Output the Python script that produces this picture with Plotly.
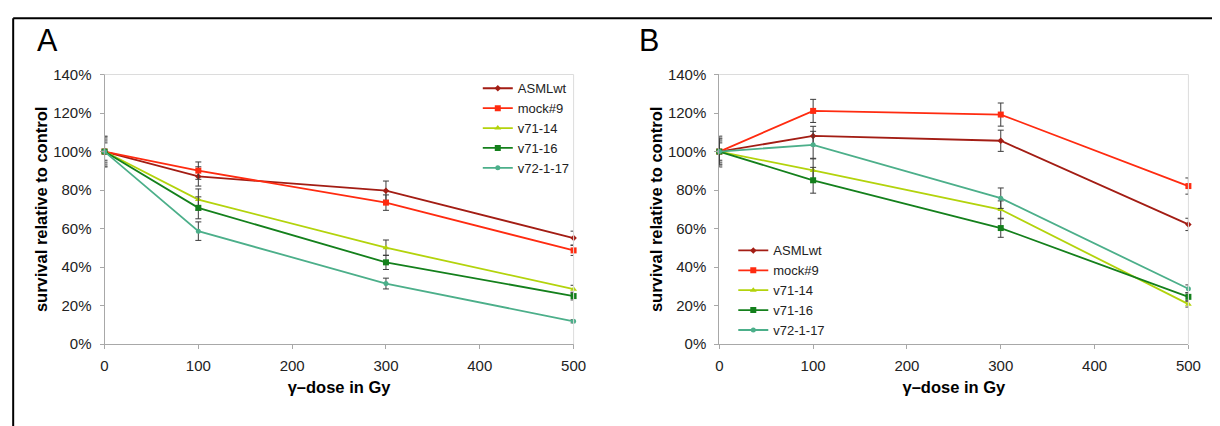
import plotly.graph_objects as go

doses = [0, 100, 300, 500]
series_names = ["ASMLwt", "mock#9", "v71-14", "v71-16", "v72-1-17"]

# Panel A values (% survival relative to control) and error bars
a_asmlwt = [100, 87.1, 79.7, 55.1]
a_mock9 = [100, 90.1, 73.5, 48.7]
a_v7114 = [100, 75.1, 50.1, 28.6]
a_v7116 = [100, 70.8, 42.5, 25.0]
a_v72117 = [100, 58.7, 31.5, 11.9]
a_err_asmlwt = [7.5, 5.0, 5.0, 3.6]
a_err_mock9 = [6.5, 4.5, 4.0, 2.6]
a_err_v7114 = [8.0, 5.5, 4.0, 2.0]
a_err_v7116 = [5.5, 5.7, 3.7, 2.0]
a_err_v72117 = [4.5, 4.8, 2.8, 0.8]

# Panel B values and error bars
b_asmlwt = [100, 108.1, 105.6, 62.2]
b_mock9 = [100, 121.1, 119.2, 82.1]
b_v7114 = [100, 90.2, 69.9, 20.8]
b_v7116 = [100, 85.1, 60.3, 24.6]
b_v72117 = [100, 103.5, 75.8, 28.8]
b_err_asmlwt = [7.0, 5.0, 5.5, 3.2]
b_err_mock9 = [5.5, 6.0, 6.0, 4.2]
b_err_v7114 = [8.0, 6.0, 4.5, 1.5]
b_err_v7116 = [6.5, 6.7, 4.8, 2.0]
b_err_v72117 = [4.5, 7.0, 5.3, 2.0]

x_ticks = [0, 100, 200, 300, 400, 500]
y_ticks = [0, 20, 40, 60, 80, 100, 120, 140]
y_tick_labels = ["0%", "20%", "40%", "60%", "80%", "100%", "120%", "140%"]

colors = ["#A31D14", "#FF2B10", "#B3D30C", "#14801C", "#4CAF8A"]
symbols = ["diamond", "square", "triangle-up", "square", "circle"]
sizes = [5, 6, 6, 6, 5]

panel_a = [a_asmlwt, a_mock9, a_v7114, a_v7116, a_v72117]
panel_a_err = [a_err_asmlwt, a_err_mock9, a_err_v7114, a_err_v7116, a_err_v72117]
panel_b = [b_asmlwt, b_mock9, b_v7114, b_v7116, b_v72117]
panel_b_err = [b_err_asmlwt, b_err_mock9, b_err_v7114, b_err_v7116, b_err_v72117]

FONT = "Liberation Sans, Arial, sans-serif"
W, H = 1220, 426

# placement helpers: target pixel positions (as seen in the final picture) -> paper fractions
SX, OX = 0.988, 12.3
SY, OY = 0.962, 16.1

def px_x(p):
    return ((p - OX) / SX) / W

def px_y(p):
    return 1 - ((p - OY) / SY) / H

fig = go.Figure()

for vals_list, errs_list, xa, ya, lg in [
        (panel_a, panel_a_err, "x", "y", "legend"),
        (panel_b, panel_b_err, "x2", "y2", "legend2")]:
    for i, name in enumerate(series_names):
        fig.add_trace(go.Scatter(
            x=doses, y=vals_list[i], name=name, mode="lines+markers",
            xaxis=xa, yaxis=ya, legend=lg, cliponaxis=False,
            line=dict(color=colors[i], width=1.8),
            marker=dict(color=colors[i], symbol=symbols[i], size=sizes[i]),
            error_y=dict(type="data", array=errs_list[i], visible=True,
                         color="#3C3C3C", thickness=1, width=3),
        ))

y_dom = [px_y(344), px_y(73.7)]

axis_common = dict(
    showgrid=False, zeroline=False, showline=True, linecolor="#A8A8A8", linewidth=1,
    ticks="outside", ticklen=4, tickcolor="#A8A8A8", tickwidth=1,
    tickfont=dict(family=FONT, size=15, color="#222222"),
)

xcommon = dict(axis_common, range=[0, 500], tickmode="array", tickvals=x_ticks, ticklabelstandoff=4,
               title=dict(text="<b>γ–dose in Gy</b>", font=dict(family=FONT, size=16.5, color="#000000"), standoff=8))
ycommon = dict(axis_common, range=[0, 140], tickmode="array", tickvals=y_ticks, ticktext=y_tick_labels,
               ticklabelstandoff=5,
               title=dict(text="<b>survival relative to control</b>", font=dict(family=FONT, size=16.5, color="#000000"), standoff=1))

legend_common = dict(xanchor="left", yanchor="top",
                     font=dict(family=FONT, size=13, color="#222222"),
                     bgcolor="rgba(0,0,0,0)", tracegroupgap=0, itemwidth=30)

fig.update_layout(
    width=W, height=H,
    margin=dict(l=0, r=0, t=0, b=0),
    paper_bgcolor="white", plot_bgcolor="white",
    font=dict(family=FONT, size=14, color="#222222"),
    xaxis=dict(xcommon, domain=[px_x(105), px_x(575)], anchor="y"),
    yaxis=dict(ycommon, domain=y_dom, anchor="x"),
    xaxis2=dict(xcommon, domain=[px_x(721), px_x(1191)], anchor="y2"),
    yaxis2=dict(ycommon, domain=y_dom, anchor="x2"),
    legend=dict(legend_common, x=px_x(479), y=px_y(72.5)),
    legend2=dict(legend_common, x=px_x(735), y=px_y(235)),
    showlegend=True,
)

# light plot-area border (top and right)
for xa, ya in [("x", "y"), ("x2", "y2")]:
    fig.add_shape(type="line", xref=f"{xa} domain", yref=f"{ya} domain",
                  x0=0, x1=1, y0=1, y1=1, line=dict(color="#DCDCDC", width=1))
    fig.add_shape(type="line", xref=f"{xa} domain", yref=f"{ya} domain",
                  x0=1, x1=1, y0=0, y1=1, line=dict(color="#DCDCDC", width=1))

# figure frame (top and left)
top_y = 1 - 1.2 / H
left_x = 1.2 / W
fig.add_shape(type="line", xref="paper", yref="paper", x0=left_x, x1=1, y0=top_y, y1=top_y,
              line=dict(color="#000000", width=2))
fig.add_shape(type="line", xref="paper", yref="paper", x0=left_x, x1=left_x, y0=top_y, y1=0,
              line=dict(color="#000000", width=2))

for label, cx in [("A", 48), ("B", 651)]:
    fig.add_annotation(text=label, x=px_x(cx), y=px_y(39), xref="paper", yref="paper",
                       xanchor="center", yanchor="middle", showarrow=False,
                       font=dict(family=FONT, size=30.5, color="#000000"))

fig.write_html("out.html")
